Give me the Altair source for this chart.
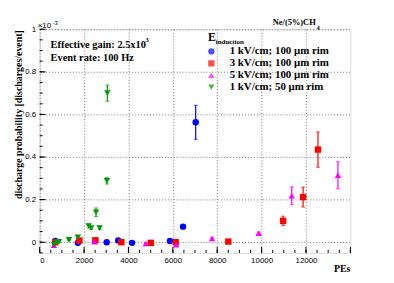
import altair as alt
import pandas as pd

# ---- data (values in units of 1e-3) ----
series_names = ["1 kV/cm; 100  μm rim", "3 kV/cm; 100  μm rim",
                "5 kV/cm; 100  μm rim", "1 kV/cm; 50  μm rim"]
series_colors = ["#0000ff", "#ff0000", "#ff00ff", "#009900"]
series_shapes = ["circle", "square", "triangle-up", "triangle-down"]

blue_x = [700, 1720, 3020, 3540, 4160, 5870, 6460, 7030]
blue_y = [0.006, -0.003, 0.0, 0.008, -0.003, 0.006, 0.073, 0.563]
blue_e = [0.005, 0.003, 0.003, 0.004, 0.003, 0.004, 0.008, 0.080]

red_x = [700, 1790, 2510, 3680, 5010, 6130, 8500, 10970, 11870, 12540]
red_y = [0.0, 0.008, 0.009, 0.0, -0.003, 0.0, 0.003, 0.100, 0.212, 0.435]
red_e = [0.003, 0.004, 0.004, 0.002, 0.002, 0.003, 0.003, 0.022, 0.047, 0.083]

mag_x = [640, 2470, 4780, 6150, 7770, 9870, 11360, 13440]
mag_y = [-0.014, 0.002, -0.006, -0.012, 0.017, 0.042, 0.218, 0.314]
mag_e = [0.003, 0.003, 0.002, 0.003, 0.004, 0.006, 0.042, 0.064]

grn_x = [650, 750, 870, 1320, 1720, 2210, 2320, 2540, 2700, 3030, 3050]
grn_y = [-0.012, 0.0, 0.002, 0.011, 0.023, 0.076, 0.067, 0.141, 0.067, 0.288, 0.700]
grn_e = [0.003, 0.003, 0.003, 0.004, 0.008, 0.009, 0.008, 0.020, 0.008, 0.015, 0.038]

x_major = [0, 2000, 4000, 6000, 8000, 10000, 12000, 14000]
x_labels = [0, 2000, 4000, 6000, 8000, 10000, 12000]
x_minor = [v * 500 for v in range(0, 29)]
y_major = [0, 0.2, 0.4, 0.6, 0.8, 1.0]
y_minor = [round(-0.05 + 0.05 * i, 2) for i in range(0, 22)]

rows = []
for name, xs, ys, es in zip(series_names, [blue_x, red_x, mag_x, grn_x],
                            [blue_y, red_y, mag_y, grn_y],
                            [blue_e, red_e, mag_e, grn_e]):
    for x, y, e in zip(xs, ys, es):
        rows.append({"PEs": x, "prob": y, "lo": y - e, "hi": y + e, "series": name})
df = pd.DataFrame(rows)

W, H = 314, 226
xs_ = alt.Scale(domain=[0, 14000], nice=False, zero=False)
ys_ = alt.Scale(domain=[-0.05, 1.0], nice=False, zero=False)

grid_kw = dict(grid=True, gridDash=[1, 2], gridColor="#777777", gridWidth=1,
               ticks=False, domain=False, labelFont="Liberation Sans",
               labelFontSize=8, labelColor="black", title=None)
x_axis = alt.Axis(values=x_labels, labelPadding=4, format="d", **grid_kw)
y_axis = alt.Axis(values=y_major, labelPadding=4, format=".1~f", **grid_kw)

legend = alt.Legend(orient="none", legendX=168, legendY=17, title=None,
                    labelFont="Liberation Serif", labelFontWeight="bold",
                    labelFontSize=11, labelColor="black", symbolSize=40,
                    labelOffset=13, rowPadding=0, padding=0,
                    symbolStrokeWidth=0)
color = alt.Color("series:N", scale=alt.Scale(domain=series_names, range=series_colors),
                  legend=legend)
shape = alt.Shape("series:N", scale=alt.Scale(domain=series_names, range=series_shapes),
                  legend=legend)

X = alt.X("PEs:Q", scale=xs_, axis=x_axis)
Y = alt.Y("prob:Q", scale=ys_, axis=y_axis)

err = alt.Chart(df).mark_rule(strokeWidth=1.2).encode(
    x=X, y=alt.Y("lo:Q", scale=ys_, axis=y_axis), y2="hi:Q", color=color)
cap_lo = alt.Chart(df).mark_tick(orient="horizontal", size=4, thickness=1).encode(
    x=X, y=alt.Y("lo:Q", scale=ys_, axis=y_axis), color=color)
cap_hi = alt.Chart(df).mark_tick(orient="horizontal", size=4, thickness=1).encode(
    x=X, y=alt.Y("hi:Q", scale=ys_, axis=y_axis), color=color)
pts = alt.Chart(df).mark_point(filled=True, opacity=1, size=42).encode(
    x=X, y=Y, color=color, shape=shape)

# inward ticks
xmaj = alt.Chart(pd.DataFrame({"v": x_major})).mark_rule(color="black").encode(
    x=alt.X("v:Q", scale=xs_, axis=x_axis), y=alt.value(H), y2=alt.value(H - 6))
xmin = alt.Chart(pd.DataFrame({"v": x_minor})).mark_rule(color="black").encode(
    x=alt.X("v:Q", scale=xs_, axis=x_axis), y=alt.value(H), y2=alt.value(H - 3))
ymaj = alt.Chart(pd.DataFrame({"v": y_major})).mark_rule(color="black").encode(
    y=alt.Y("v:Q", scale=ys_, axis=y_axis), x=alt.value(0), x2=alt.value(6))
ymin = alt.Chart(pd.DataFrame({"v": y_minor})).mark_rule(color="black").encode(
    y=alt.Y("v:Q", scale=ys_, axis=y_axis), x=alt.value(0), x2=alt.value(3))

one = pd.DataFrame({"a": [0]})


def txt(s, x, y, size=11, font="Liberation Serif", weight="bold", align="left",
        baseline="alphabetic", angle=0):
    return alt.Chart(one).mark_text(text=s, font=font, fontWeight=weight, fontSize=size,
                                    align=align, baseline=baseline, angle=angle,
                                    color="black").encode(x=alt.value(x), y=alt.value(y))


texts = [
    txt("Effective gain: 2.5x10", 11, 19, size=10.5),
    txt("3", 107, 13, size=6.5),
    txt("Event rate: 100 Hz", 11, 32, size=10.5),
    txt("E", 170, 12, size=12),
    txt("induction", 178, 15, size=7),
    txt("Ne/(5%)CH", 279, -4, size=8.5, align="right"),
    txt("4", 280, 1, size=6),
    txt("×10", -2, -1, size=8, font="Liberation Sans", weight="normal"),
    txt("-3", 13, -4, size=6, font="Liberation Sans", weight="normal"),
    txt("PEs", W, H + 19, size=10, align="right"),
    txt("discharge probability [discharges/event]", -21, 1, size=10,
        align="right", baseline="middle", angle=270),
]

chart = alt.layer(xmin, xmaj, ymin, ymaj, err, cap_lo, cap_hi, pts, *texts).properties(
    width=W, height=H,
    autosize=alt.AutoSizeParams(type="none"),
    padding={"left": 32, "top": 20, "right": 36, "bottom": 28},
).configure_view(stroke="black", strokeWidth=1).configure(background="white")

chart.save("out.html", embed_options={"renderer": "svg", "actions": False})
